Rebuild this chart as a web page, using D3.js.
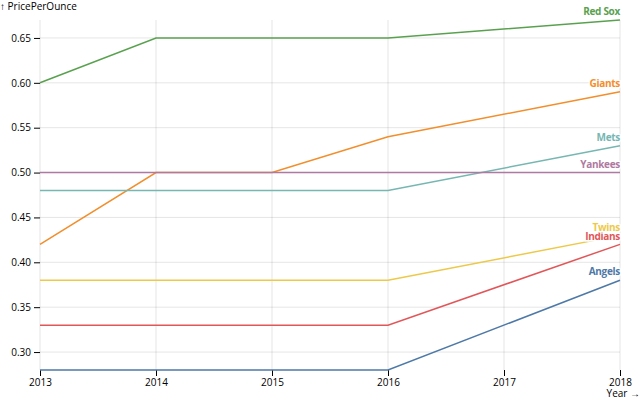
<!DOCTYPE html>
<html><head><meta charset="utf-8">
<script src="https://cdn.jsdelivr.net/npm/d3@7"></script>
<style>body{margin:0;background:#fff}svg{display:block;font-family:"Open Sans",sans-serif}</style>
</head><body>
<script>
const teams = ["Angels","Giants","Indians","Mets","Red Sox","Twins","Yankees"];
const years = [2013,2014,2015,2016,2018];
const angels  = [0.28,0.28,0.28,0.28,0.38];
const giants  = [0.42,0.50,0.50,0.54,0.59];
const indians = [0.33,0.33,0.33,0.33,0.42];
const mets    = [0.48,0.48,0.48,0.48,0.53];
const redsox  = [0.60,0.65,0.65,0.65,0.67];
const twins   = [0.38,0.38,0.38,0.38,0.43];
const yankees = [0.50,0.50,0.50,0.50,0.50];
const xTicks = [2013,2014,2015,2016,2017,2018];
const yTicks = [0.30,0.35,0.40,0.45,0.50,0.55,0.60,0.65];
const colors = ["#4e79a7","#f28e2c","#e15759","#76b7b2","#59a14f","#edc949","#af7aa1"];
const seriesVals = [angels,giants,indians,mets,redsox,twins,yankees];

const W=640,H=400,ml=40,mr=20,mt=20,mb=30;
const svg=d3.select("body").append("svg").attr("width",W).attr("height",H);
const x=d3.scaleLinear().domain([2013,2018]).range([ml,W-mr]);
const y=d3.scaleLinear().domain([0.28,0.67]).range([H-mb,mt]);

// grid
svg.append("g").attr("stroke","#000").attr("stroke-opacity",0.1)
 .selectAll("line").data(xTicks).join("line")
 .attr("x1",d=>x(d)).attr("x2",d=>x(d)).attr("y1",mt).attr("y2",H-mb);
svg.append("g").attr("stroke","#000").attr("stroke-opacity",0.1)
 .selectAll("line").data(yTicks).join("line")
 .attr("x1",ml).attr("x2",W-mr).attr("y1",d=>y(d)).attr("y2",d=>y(d));

// axes
const xa=svg.append("g").attr("transform",`translate(0,${H-mb})`)
 .call(d3.axisBottom(x).tickValues(xTicks).tickFormat(d3.format("d")).tickSize(6).tickPadding(3));
xa.select(".domain").remove();
const ya=svg.append("g").attr("transform",`translate(${ml},0)`)
 .call(d3.axisLeft(y).tickValues(yTicks).tickFormat(d3.format(".2f")).tickSize(6).tickPadding(3));
ya.select(".domain").remove();
svg.selectAll(".tick text").attr("font-size",10).attr("font-family","'Open Sans',sans-serif").attr("fill","#000");
svg.selectAll(".tick line").attr("stroke","#000");

svg.append("text").attr("x",0).attr("y",10).attr("font-size",10).text("↑ PricePerOunce");
svg.append("text").attr("x",W).attr("y",H-3).attr("text-anchor","end").attr("font-size",10).text("Year →");

const line=d3.line().x((d,i)=>x(years[i])).y(d=>y(d));
teams.forEach((t,k)=>{
  svg.append("path").datum(seriesVals[k]).attr("fill","none").attr("stroke",colors[k])
   .attr("stroke-width",1.5).attr("d",line);
});
teams.forEach((t,k)=>{
  const v=seriesVals[k][years.length-1];
  svg.append("text").attr("x",x(2018)).attr("y",y(v)-8).attr("dy","0.32em")
   .attr("text-anchor","end").attr("font-size",10).attr("font-weight","bold")
   .attr("fill",colors[k]).attr("stroke","#fff").attr("stroke-width",3).attr("paint-order","stroke")
   .attr("letter-spacing","-0.3").text(t);
});
</script>
</body></html>
